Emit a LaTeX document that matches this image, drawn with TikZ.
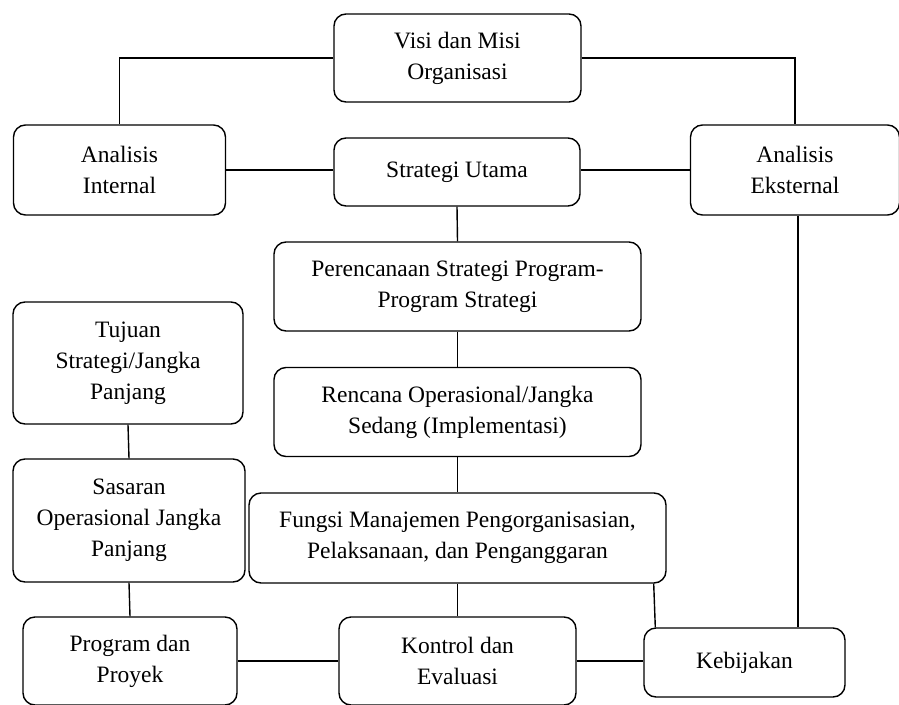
\documentclass[tikz,border=0pt]{standalone}
\usepackage{fontspec}
\setmainfont{LiberationSerif}[Extension=.ttf, UprightFont=*-Regular, BoldFont=*-Bold]
\usetikzlibrary{shapes.misc, positioning}
\tikzstyle{box} = [rectangle, rounded corners=12pt, draw=black, line width=1.4pt, fill=white, align=center, inner sep=2pt, font=\fontsize{23.5}{31}\selectfont]
\tikzstyle{link} = [line width=1.4pt]

\begin{document}
\begin{tikzpicture}[x=1pt, y=-1pt]

  \useasboundingbox (0,0) rectangle (899,704);

  \node[box, minimum width=247pt, minimum height=88pt] (visi) at (457.5,58) {Visi dan Misi\\Organisasi};
  \node[box, minimum width=212pt, minimum height=90pt] (internal) at (119.5,170) {Analisis\\Internal};
  \node[box, minimum width=246pt, minimum height=68pt] (utama) at (457,172) {Strategi Utama};
  \node[box, minimum width=209pt, minimum height=90pt] (eksternal) at (795,170) {Analisis\\Eksternal};

  \node[box, minimum width=367pt, minimum height=89pt] (perencanaan) at (457.5,286.5) {Perencanaan Strategi Program-\\Program Strategi};
  \node[box, minimum width=367pt, minimum height=89pt] (rencana) at (457.5,412) {Rencana Operasional/Jangka\\Sedang (Implementasi)};
  \node[box, minimum width=417pt, minimum height=90pt] (fungsi) at (457.5,538) {Fungsi Manajemen Pengorganisasian,\\Pelaksanaan, dan Penganggaran};

  \node[box, minimum width=230pt, minimum height=122pt] (tujuan) at (128,363) {Tujuan\\Strategi/Jangka\\Panjang};
  \node[box, minimum width=232pt, minimum height=123pt] (sasaran) at (129,520.5) {Sasaran\\Operasional Jangka\\Panjang};

  \node[box, minimum width=214pt, minimum height=88pt] (program) at (130,661) {Program dan\\Proyek};
  \node[box, minimum width=237pt, minimum height=88pt] (kontrol) at (457.5,661) {Kontrol dan\\Evaluasi};
  \node[box, minimum width=201pt, minimum height=69pt] (kebijakan) at (744.5,662.5) {Kebijakan};

  % top part
  \draw[link] (visi.west) -| (internal.north);
  \draw[link] (visi.east) -| (eksternal.north);
  \draw[link] (internal.east) -- (internal.east -| utama.west);
  \draw[link] (eksternal.west -| utama.east) -- (eksternal.west);

  % middle column
  \draw[link] (utama.south) -- (perencanaan.north);
  \draw[link] (perencanaan.south) -- (rencana.north);
  \draw[link] (rencana.south) -- (fungsi.north);
  \draw[link] (fungsi.south) -- (kontrol.north);

  % left column
  \draw[link] (tujuan.south) -- (sasaran.north);
  \draw[link] (sasaran.south) -- (program.north);

  % bottom row
  \draw[link] (program.east) -- (kontrol.west);
  \draw[link] (kontrol.east) -- (kontrol.east -| kebijakan.west);
  \draw[link] ([xshift=-13pt]fungsi.south east) -- ([xshift=12pt]kebijakan.north west);
  \draw[link] ([xshift=3pt]eksternal.south) -- ([xshift=3pt]eksternal.south |- kebijakan.north);

\end{tikzpicture}
\end{document}
